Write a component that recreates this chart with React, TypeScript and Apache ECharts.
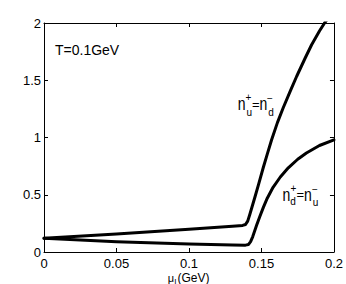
import React, { useEffect, useRef } from "react";
import * as echarts from "echarts";

// Data (mu_I in GeV)
const upperX = [0, 0.05, 0.1, 0.13, 0.137, 0.139, 0.1405, 0.142, 0.1455, 0.148, 0.1513, 0.154, 0.157, 0.161, 0.165, 0.17, 0.1743, 0.18, 0.1846, 0.19, 0.1935, 0.2];
const upperY = [0.12, 0.158, 0.198, 0.225, 0.232, 0.24, 0.27, 0.33, 0.48, 0.59, 0.74, 0.855, 0.98, 1.13, 1.26, 1.41, 1.535, 1.69, 1.81, 1.93, 2.0, 2.11];

const lowerX = [0, 0.05, 0.1, 0.13, 0.139, 0.141, 0.1425, 0.144, 0.1467, 0.149, 0.1513, 0.154, 0.158, 0.163, 0.1685, 0.175, 0.181, 0.19, 0.2];
const lowerY = [0.12, 0.09, 0.07, 0.062, 0.06, 0.065, 0.09, 0.135, 0.235, 0.315, 0.39, 0.47, 0.565, 0.655, 0.735, 0.81, 0.865, 0.93, 0.98];

const xTicks = [0, 0.05, 0.1, 0.15, 0.2];
const xTickLabels = ["0", "0.05", "0.1", "0.15", "0.2"];
const yTicks = [0, 0.5, 1, 1.5, 2];
const yTickLabels = ["0", "0.5", "1", "1.5", "2"];

const FONT = "'Liberation Sans', Arial, Helvetica, sans-serif";

function labelFor(v: number, ticks: number[], labels: string[]) {
  let best = 0;
  for (let i = 0; i < ticks.length; i++) {
    if (Math.abs(ticks[i] - v) < Math.abs(ticks[best] - v)) best = i;
  }
  return labels[best];
}

type Glyph = [number, number, string, number, number?];

function glyphs(list: Glyph[]) {
  return list.map(([x, y, t, fs, sy]) => ({
    type: "text",
    x,
    y,
    scaleY: sy ?? 1,
    silent: true,
    style: {
      text: t,
      fontSize: fs,
      fontFamily: FONT,
      fill: "#000",
      align: "center",
      verticalAlign: "middle",
    },
  }));
}

export default function App() {
  const ref = useRef<HTMLDivElement>(null);

  useEffect(() => {
    if (!ref.current) return;
    const chart = echarts.init(ref.current, null, { renderer: "svg" });

    const axisCommon = {
      type: "value" as const,
      splitLine: { show: false },
      axisLine: { show: true, onZero: false, lineStyle: { color: "#000", width: 1 } },
      axisTick: { show: true, inside: true, length: 4, lineStyle: { color: "#000", width: 1 } },
    };

    const bigScale = 1.35;
    const label1: Glyph[] = [
      [241.7, 104, "n", 14, bigScale],
      [248.3, 97.5, "+", 10],
      [249.2, 112.5, "u", 10],
      [255.7, 104.5, "=", 13],
      [263.3, 104, "n", 14, bigScale],
      [270, 98.3, "\u2212", 10],
      [271, 112.5, "d", 10],
    ];
    const label2: Glyph[] = [
      [286.3, 194.5, "n", 14, bigScale],
      [293.3, 188, "+", 10],
      [293, 201.7, "d", 10],
      [300.3, 194.5, "=", 13],
      [307.8, 194.5, "n", 14, bigScale],
      [315, 189, "\u2212", 10],
      [315.5, 202.5, "u", 10],
    ];

    const lineCommon = {
      type: "line" as const,
      symbol: "none",
      clip: true,
      smooth: false,
      lineStyle: { color: "#000", width: 3, join: "round", cap: "round" },
      xAxisIndex: 0,
      yAxisIndex: 0,
    };

    chart.setOption({
      animation: false,
      backgroundColor: "#fff",
      grid: { left: 44, top: 23, width: 290, height: 229, containLabel: false },
      xAxis: [
        {
          ...axisCommon,
          position: "bottom",
          min: 0,
          max: 0.2,
          interval: 0.05,
          axisLabel: {
            color: "#000",
            fontSize: 13,
            fontFamily: FONT,
            margin: 5,
            formatter: (v: number) => labelFor(v, xTicks, xTickLabels),
          },
        },
        {
          ...axisCommon,
          position: "top",
          min: 0,
          max: 0.2,
          interval: 0.05,
          axisLabel: { show: false },
        },
      ],
      yAxis: [
        {
          ...axisCommon,
          position: "left",
          min: 0,
          max: 2,
          interval: 0.5,
          axisLabel: {
            color: "#000",
            fontSize: 13,
            fontFamily: FONT,
            margin: 3,
            formatter: (v: number) => labelFor(v, yTicks, yTickLabels),
          },
        },
        {
          ...axisCommon,
          position: "right",
          min: 0,
          max: 2,
          interval: 0.5,
          axisLabel: { show: false },
        },
      ],
      series: [
        {
          ...lineCommon,
          name: "nu+=nd-",
          data: upperX.map((x, i) => [x, upperY[i]]),
        },
        {
          ...lineCommon,
          name: "nd+=nu-",
          data: lowerX.map((x, i) => [x, lowerY[i]]),
        },
      ],
      graphic: [
        {
          type: "text",
          x: 55,
          y: 49.7,
          silent: true,
          style: {
            text: "T=0.1GeV",
            fontSize: 14,
            fontFamily: FONT,
            fill: "#000",
            align: "left",
            verticalAlign: "middle",
          },
        },
        ...glyphs(label1),
        ...glyphs(label2),
        {
          type: "text",
          x: 171,
          y: 277.5,
          silent: true,
          style: { text: "\u03bc", fontSize: 11, fontFamily: FONT, fill: "#000", align: "center", verticalAlign: "middle" },
        },
        {
          type: "text",
          x: 175.3,
          y: 281,
          silent: true,
          style: { text: "I", fontSize: 8, fontFamily: FONT, fill: "#000", align: "center", verticalAlign: "middle" },
        },
        {
          type: "text",
          x: 177.5,
          y: 277.5,
          silent: true,
          style: { text: "(GeV)", fontSize: 12, fontFamily: FONT, fill: "#000", align: "left", verticalAlign: "middle" },
        },
      ],
    });

    return () => chart.dispose();
  }, []);

  return (
    <div
      ref={ref}
      style={{ position: "fixed", left: 0, top: 0, width: 346, height: 284, background: "#fff" }}
    />
  );
}
